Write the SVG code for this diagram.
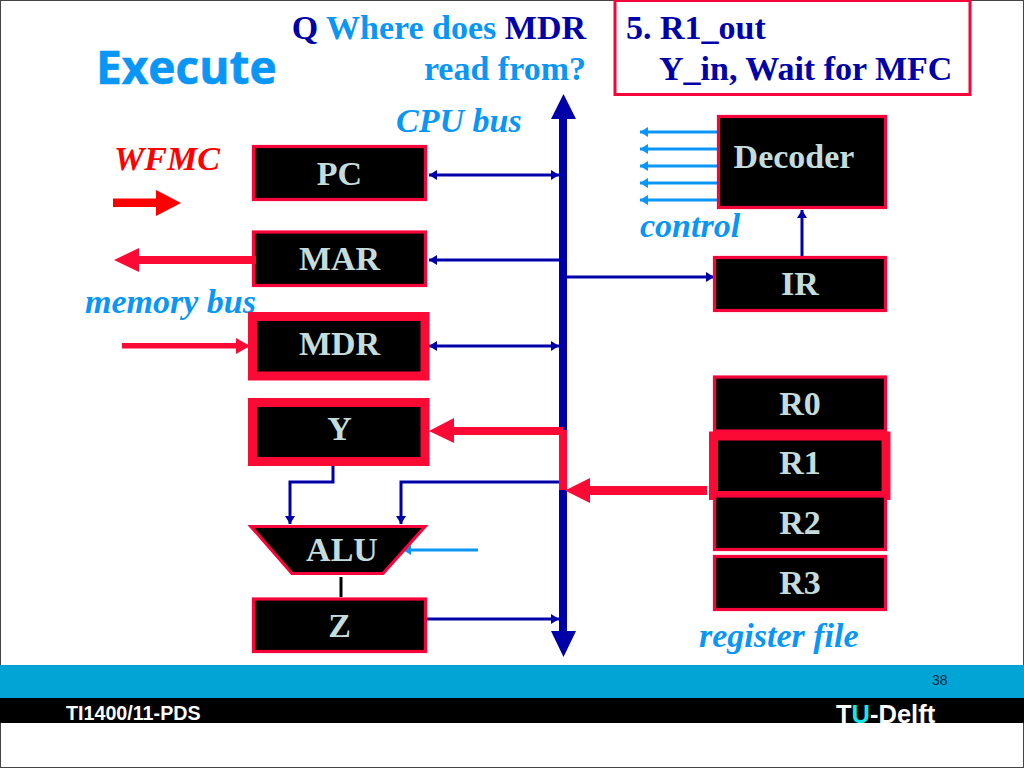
<svg xmlns="http://www.w3.org/2000/svg" width="1024" height="768" viewBox="0 0 1024 768">
<style>
.box{fill:#000;stroke:#f5053a;stroke-width:3.2}
.hi{fill:#000;stroke:#fb0a36;stroke-width:9}
.lbl{font:bold 34px "Liberation Serif",serif;fill:#c5dcdc;text-anchor:middle}
.dk{fill:none;stroke:#0000a8;stroke-width:3}
.lt{fill:none;stroke:#0a96f5;stroke-width:3}
.cap{font:italic bold 34px "Liberation Serif",serif;fill:#0a96f5}
.hd{font:bold 34px "Liberation Serif",serif}
.r{fill:#fb0a36}
.b{fill:#0000a8}
</style>
<defs>
<marker id="ad" markerUnits="userSpaceOnUse" markerWidth="9" markerHeight="10" refX="8" refY="5" orient="auto-start-reverse"><path d="M0 0L8 5L0 10z" fill="#0000a8"/></marker>
<marker id="al" markerUnits="userSpaceOnUse" markerWidth="9" markerHeight="10" refX="8" refY="5" orient="auto-start-reverse"><path d="M0 0L8 5L0 10z" fill="#0a96f5"/></marker>
</defs>
<rect x="0.5" y="0.5" width="1023" height="767" fill="#fff" stroke="#444"/>
<g id="footer">
<rect x="0" y="665" width="1024" height="33" fill="#00a5d6"/>
<rect x="0" y="698" width="1024" height="25" fill="#000"/>
<text x="932" y="685" font-family="Liberation Sans,sans-serif" font-size="14" fill="#052a40">38</text>
<text x="66" y="720" font-family="Liberation Sans,sans-serif" font-size="19.700" font-weight="bold" fill="#fff">TI1400/11-PDS</text>
<text x="836" y="723" font-family="Liberation Sans,sans-serif" font-size="25.500" font-weight="bold" fill="#fff">T<tspan fill="#19e6e6">U</tspan>-Delft</text>
</g>
<g id="titles">
<text x="96" y="84" font-family="Open Sans,sans-serif" font-size="46" font-weight="bold" fill="#0a96f5" stroke="#0a96f5" stroke-width="0.6">Execute</text>
<text class="hd" x="586" y="39" text-anchor="end" fill="#0a96f5"><tspan fill="#0000a8">Q</tspan> Where does <tspan fill="#0000a8">MDR</tspan></text>
<text class="hd" x="586" y="80" text-anchor="end" fill="#0a96f5">read from?</text>
<text class="cap" x="396" y="132">CPU bus</text>
<text class="cap" x="114" y="170" style="fill:#f00">WFMC</text>
<text class="cap" x="85" y="313">memory bus</text>
<text class="cap" x="640" y="237">control</text>
<text class="cap" x="699" y="647">register file</text>
</g>
<g id="question-box">
<rect x="615" y="0.500" width="355" height="94" fill="#fff" stroke="#f5053a" stroke-width="3"/>
<text class="hd" x="626" y="39" fill="#0000a8">5. R1_out</text>
<text class="hd" x="659" y="80" fill="#0000a8">Y_in, Wait for MFC</text>
</g>
<g id="connectors">
<path class="dk" d="M429 175H559" marker-start="url(#ad)" marker-end="url(#ad)"/>
<path class="dk" d="M429 260H559" marker-start="url(#ad)"/>
<path class="dk" d="M429 346H559" marker-start="url(#ad)" marker-end="url(#ad)"/>
<path class="dk" d="M567 277H714" marker-end="url(#ad)"/>
<path class="dk" d="M333 457V482H290V524" marker-end="url(#ad)"/>
<path class="dk" d="M559 482H401V524" marker-end="url(#ad)"/>
<path class="dk" d="M427 619H559" marker-end="url(#ad)"/>
<path class="dk" d="M802 256V210" marker-end="url(#ad)"/>
<path class="lt" d="M478 550H403" marker-end="url(#al)"/>
<path class="lt" d="M717 132H640" marker-end="url(#al)"/>
<path class="lt" d="M717 149H640" marker-end="url(#al)"/>
<path class="lt" d="M717 166H640" marker-end="url(#al)"/>
<path class="lt" d="M717 183H640" marker-end="url(#al)"/>
<path class="lt" d="M717 200H640" marker-end="url(#al)"/>
<path d="M341 577V597" stroke="#000" stroke-width="3" fill="none"/>
<path class="b" d="M559 119H551L563.500 94L576 119H567V631H576L563.500 657L551 631H559z"/>
<path class="r" d="M559 430H567V490H559z"/>
<path class="r" d="M429 431L454 418V427H563V435H454V443z"/>
<path class="r" d="M565 490.500L590 478V486H707V495H590V503z"/>
<path class="r" d="M114 260L139 248V256H256V264H139V272z"/>
<path d="M181 203L156 190V198.500H113V207H156V216z" fill="#f00"/>
<path class="r" d="M250 346L236 338V343H122V348.500H236V354z"/>
</g>
<g id="PC"><rect class="box" x="253.500" y="146.500" width="172" height="53"/><text class="lbl" x="339.500" y="185">PC</text></g>
<g id="MAR"><rect class="box" x="253.500" y="232" width="172" height="53.500"/><text class="lbl" x="339.500" y="270">MAR</text></g>
<path class="r" d="M250 256H256V264H250z"/>
<g id="MDR"><rect class="hi" x="252.500" y="316.500" width="172.500" height="59.500"/><text class="lbl" x="339.500" y="355">MDR</text></g>
<g id="Y"><rect class="hi" x="252.500" y="402.500" width="172.500" height="59"/><text class="lbl" x="339.500" y="440">Y</text></g>
<g id="ALU"><path class="box" d="M251 526.500H425L383 573.500H292z"/><text class="lbl" x="342" y="561">ALU</text></g>
<g id="Z"><rect class="box" x="253.500" y="599" width="172" height="52.500"/><text class="lbl" x="339.500" y="637">Z</text></g>
<g id="Decoder"><rect class="box" x="718.500" y="116.500" width="167" height="91"/><text class="lbl" x="794" y="168">Decoder</text></g>
<g id="IR"><rect class="box" x="714.500" y="257.500" width="171" height="53"/><text class="lbl" x="800" y="295">IR</text></g>
<g id="R0"><rect class="box" x="714.500" y="377" width="171" height="54"/><text class="lbl" x="800" y="415">R0</text></g>
<g id="R1"><rect class="hi" x="713.500" y="436" width="172.500" height="59.500"/><text class="lbl" x="800" y="474">R1</text></g>
<g id="R2"><rect class="box" x="714.500" y="496" width="171" height="53.500"/><text class="lbl" x="800" y="534">R2</text></g>
<g id="R3"><rect class="box" x="714.500" y="556.500" width="171" height="53"/><text class="lbl" x="800" y="594">R3</text></g>
</svg>
